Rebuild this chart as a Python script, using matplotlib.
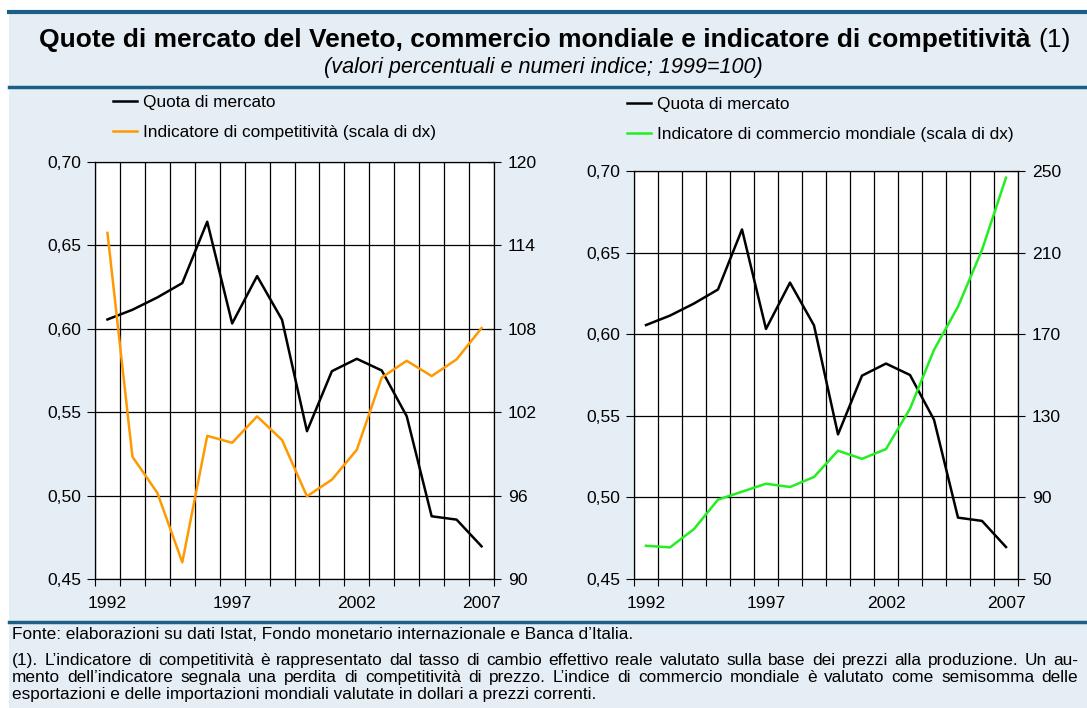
import matplotlib
matplotlib.use("Agg")
import matplotlib.pyplot as plt
from matplotlib.lines import Line2D
from matplotlib.patches import Rectangle
import numpy as np

plt.rcParams['font.family'] = ['Liberation Sans', 'DejaVu Sans']

years = list(range(1992, 2008))
quota = [0.6056, 0.6114, 0.6188, 0.6274, 0.6642, 0.6032, 0.6316, 0.6054,
         0.5386, 0.5746, 0.5820, 0.5750, 0.5476, 0.4876, 0.4856, 0.4696]
competitivita = [114.9, 98.8, 96.2, 91.2, 100.3, 99.8, 101.7, 100.0,
                 95.95, 97.15, 99.3, 104.5, 105.7, 104.6, 105.8, 108.05]
commercio = [66.3, 65.5, 74.5, 88.9, 92.8, 96.7, 95.1, 100.0,
             112.9, 108.9, 113.7, 133.5, 162.3, 183.5, 211.3, 246.7]

left_ticks = [0.45, 0.50, 0.55, 0.60, 0.65, 0.70]
left_ticklabels = ['0,45', '0,50', '0,55', '0,60', '0,65', '0,70']
right1_ticks = [90, 96, 102, 108, 114, 120]
right2_ticks = [50, 90, 130, 170, 210, 250]
year_labels = ['1992', '1997', '2002', '2007']

title = "Quote di mercato del Veneto, commercio mondiale e indicatore di competitività"
title_note = "(1)"
subtitle = "(valori percentuali e numeri indice; 1999=100)"
fonte = "Fonte: elaborazioni su dati Istat, Fondo monetario internazionale e Banca d\u2019Italia."
nota = ["(1). L\u2019indicatore di competitività è rappresentato dal tasso di cambio effettivo reale valutato sulla base dei prezzi alla produzione. Un au-",
        "mento dell\u2019indicatore segnala una perdita di competitività di prezzo. L\u2019indice di commercio mondiale è valutato come semisomma delle",
        "esportazioni e delle importazioni mondiali valutate in dollari a prezzi correnti."]

W, H = 1087, 708
BG = '#E6EEF5'
BLUE = '#1B5E86'
ORANGE = '#FF9900'
GREEN = '#22EE22'
TICK_FS = 12.6
LEG_FS = 12.4
FOOT_FS = 12.4

fig = plt.figure(figsize=(W / 100, H / 100), dpi=100)
fig.patch.set_facecolor('white')

def fx(x):
    return x / W

def fy(y):
    return 1 - y / H

# background panel
fig.add_artist(Rectangle((fx(9), 0), 1 - fx(9), fy(12), transform=fig.transFigure,
                         facecolor=BG, edgecolor='none', zorder=0))
for yy, lw in [(12, 3.0), (87, 2.5), (622, 2.5)]:
    fig.add_artist(Line2D([fx(9), 1], [fy(yy), fy(yy)], transform=fig.transFigure,
                          color=BLUE, lw=lw, zorder=1))

x = np.arange(len(years))

def setup(ax, rticks, rlabels, ylim_r):
    ax.set_facecolor('white')
    ax.set_xlim(-0.5, len(years) - 0.5)
    ax.set_ylim(0.45, 0.70)
    ax.set_yticks(left_ticks)
    ax.set_yticklabels(left_ticklabels)
    ax.set_xticks([0, 5, 10, 15])
    ax.set_xticklabels(year_labels)
    ax.set_xticks(np.arange(-0.5, len(years)), minor=True)
    ax.tick_params(axis='x', which='major', length=0, pad=12, labelsize=TICK_FS)
    ax.tick_params(axis='x', which='minor', length=5, width=0.8, direction='out', color='black')
    ax.tick_params(axis='y', which='major', length=6, width=0.8, direction='out', pad=4, labelsize=TICK_FS)
    ax.grid(True, axis='x', which='minor', color='black', lw=0.9)
    ax.grid(True, axis='y', which='major', color='black', lw=0.9)
    for s in ax.spines.values():
        s.set_color('black')
        s.set_linewidth(0.9)
    ax2 = ax.twinx()
    ax2.set_ylim(*ylim_r)
    ax2.set_yticks(rticks)
    ax2.set_yticklabels(rlabels)
    ax2.tick_params(axis='y', length=10, width=0.8, direction='inout', pad=5, labelsize=TICK_FS)
    for s in ax2.spines.values():
        s.set_visible(False)
    ax.set_axisbelow(True)
    return ax2

leg_kw = dict(frameon=False, fontsize=LEG_FS, handlelength=1.4, handletextpad=0.35,
              labelspacing=0.85, borderpad=0, borderaxespad=0, loc='upper left')

# left panel
ax1 = fig.add_axes([fx(95), fy(579), fx(494) - fx(95), fy(162) - fy(579)])
ax1r = setup(ax1, right1_ticks, [str(v) for v in right1_ticks], (90, 120))
l1, = ax1.plot(x, quota, color='black', lw=1.8, zorder=5)
l2, = ax1r.plot(x, competitivita, color=ORANGE, lw=1.8, zorder=4)
ax1r.legend([l1, l2], ['Quota di mercato', 'Indicatore di competitività (scala di dx)'],
            bbox_to_anchor=(fx(113), fy(95)), bbox_transform=fig.transFigure, **leg_kw)

# right panel
ax2 = fig.add_axes([fx(634), fy(579), fx(1018) - fx(634), fy(171) - fy(579)])
ax2r = setup(ax2, right2_ticks, [str(v) for v in right2_ticks], (50, 250))
m1, = ax2.plot(x, quota, color='black', lw=1.8, zorder=5)
m2, = ax2r.plot(x, commercio, color=GREEN, lw=1.8, zorder=4)
ax2r.legend([m1, m2], ['Quota di mercato', 'Indicatore di commercio mondiale (scala di dx)'],
            bbox_to_anchor=(fx(627), fy(97)), bbox_transform=fig.transFigure, **leg_kw)

# subtitle and footer
fig.text(fx(543), fy(67), subtitle, fontsize=15.6, style='italic', ha='center', va='center')
fig.text(fx(12), fy(639), fonte, fontsize=FOOT_FS, ha='left', va='baseline')

fig.canvas.draw()
renderer = fig.canvas.get_renderer()

def width_of(s, **kw):
    t = fig.text(0, 0, s, **kw)
    w = t.get_window_extent(renderer).width
    t.remove()
    return w

# title: bold part + regular "(1)", centred together
TFS = 19
wb = width_of(title, fontsize=TFS, fontweight='bold')
wsp = width_of("a a", fontsize=TFS) - width_of("aa", fontsize=TFS)
wn = width_of(title_note, fontsize=TFS)
x0 = 555 - (wb + wsp + wn) / 2
fig.text(fx(x0), fy(47), title, fontsize=TFS, fontweight='bold', ha='left', va='baseline')
fig.text(fx(x0 + wb + wsp), fy(47), title_note, fontsize=TFS, ha='left', va='baseline')

def justify(line, y, x0, x1, last=False):
    if last:
        fig.text(fx(x0), fy(y), line, fontsize=FOOT_FS, ha='left', va='baseline')
        return
    words = line.split(' ')
    widths = [width_of(w, fontsize=FOOT_FS) for w in words]
    gap = (x1 - x0 - sum(widths)) / (len(words) - 1)
    pos = x0
    for w, wd in zip(words, widths):
        fig.text(fx(pos), fy(y), w, fontsize=FOOT_FS, ha='left', va='baseline')
        pos += wd + gap

for i, (line, yy) in enumerate(zip(nota, [665, 682, 699])):
    justify(line, yy, 12, 1078, last=(i == len(nota) - 1))

fig.savefig('out.png', dpi=100, facecolor=fig.get_facecolor())
